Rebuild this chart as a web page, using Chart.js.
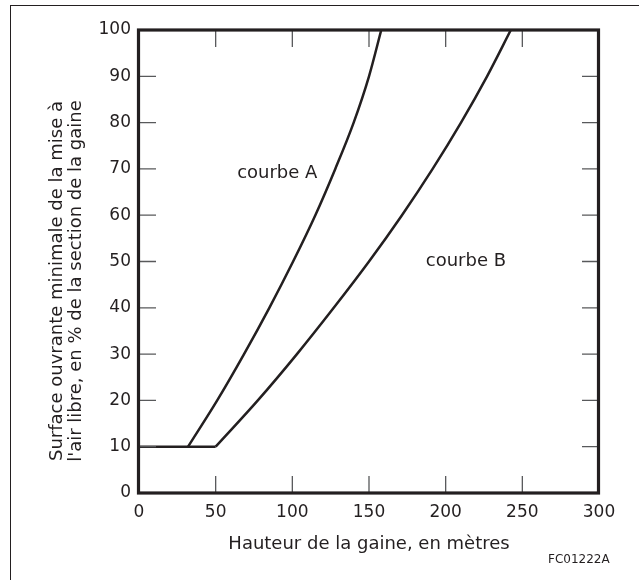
<!DOCTYPE html>
<html>
<head>
<meta charset="utf-8">
<script src="https://cdn.jsdelivr.net/npm/chart.js@4.4.0/dist/chart.umd.min.js"></script>
<style>
  body { margin: 0; background: #fff; }
  #wrap { position: relative; width: 639px; height: 580px; }
  #frame { position: absolute; left: 10px; top: 5px; right: -2px; bottom: -2px;
           border-top: 1.5px solid #231f20; border-left: 1.5px solid #231f20; }
  canvas { position: absolute; left: 0; top: 0; }
</style>
</head>
<body>
<div id="wrap">
  <div id="frame"></div>
  <canvas id="myChart" width="639" height="580"></canvas>
</div>
<script>
// axis ticks
var xTicks = [0, 50, 100, 150, 200, 250, 300];
var yTicks = [0, 10, 20, 30, 40, 50, 60, 70, 80, 90, 100];

// common flat part at 10 %
var baseX = [0, 50];
var baseY = [10, 10];

// courbe A
var curveAX = [32, 51, 68.5, 85, 100.5, 115, 128, 140, 150, 158];
var curveAY = [10, 20, 30, 40, 50, 60, 70, 80, 90, 100];

// courbe B
var curveBX = [50, 77.5, 103, 127, 150, 171.5, 191.5, 210, 227, 242.5];
var curveBY = [10, 20, 30, 40, 50, 60, 70, 80, 90, 100];

// curve labels (data units)
var labelText = ["courbe A", "courbe B"];
var labelX = [64, 187];
var labelY = [68, 49];

var yTitle = ["Surface ouvrante minimale de la mise à", "l'air libre, en % de la section de la gaine"];
var xTitle = "Hauteur de la gaine, en mètres";
var figCode = "FC01222A";

function toPoints(xs, ys) {
  var pts = [];
  for (var i in xs) {
    pts.push({x: xs[i], y: ys[i]});
  }
  return pts;
}

var ink = '#231f20';
Chart.defaults.font.family = "'DejaVu Sans'";
Chart.defaults.color = ink;

// frame, inside tick marks and the free texts
var decor = {
  id: 'decor',
  afterDatasetsDraw: function(chart) {
    var ctx = chart.ctx;
    var a = chart.chartArea;
    var xs = chart.scales.x, ys = chart.scales.y;
    var len = 17;
    ctx.save();
    ctx.strokeStyle = '#58595b';
    ctx.lineWidth = 1.3;
    ctx.beginPath();
    for (var i in xTicks) {
      var px = xs.getPixelForValue(xTicks[i]);
      ctx.moveTo(px, a.bottom); ctx.lineTo(px, a.bottom - len);
      ctx.moveTo(px, a.top); ctx.lineTo(px, a.top + len);
    }
    for (var j in yTicks) {
      var py = ys.getPixelForValue(yTicks[j]);
      ctx.moveTo(a.left, py); ctx.lineTo(a.left + len, py);
      ctx.moveTo(a.right, py); ctx.lineTo(a.right - len, py);
    }
    ctx.stroke();

    ctx.strokeStyle = ink;
    ctx.lineWidth = 3.2;
    ctx.strokeRect(a.left - 0.5, a.top, a.right - a.left, a.bottom - a.top);

    ctx.fillStyle = ink;
    ctx.font = "18px 'DejaVu Sans'";
    ctx.textAlign = 'left';
    ctx.textBaseline = 'alphabetic';
    for (var k in labelText) {
      ctx.fillText(labelText[k], xs.getPixelForValue(labelX[k]), ys.getPixelForValue(labelY[k]));
    }

    // y title, two lines
    ctx.save();
    ctx.translate(0, 281);
    ctx.rotate(-Math.PI / 2);
    ctx.textAlign = 'center';
    ctx.fillText(yTitle[0], 0, 62);
    ctx.fillText(yTitle[1], 0, 81);
    ctx.restore();

    ctx.font = "12px 'DejaVu Sans'";
    ctx.textAlign = 'left';
    ctx.fillText(figCode, 548, 563);
    ctx.restore();
  }
};

var ctx = document.getElementById('myChart').getContext('2d');
var chart = new Chart(ctx, {
  type: 'line',
  data: {
    datasets: [
      { data: toPoints(baseX, baseY), borderColor: ink, borderWidth: 2.5, pointRadius: 0, tension: 0 },
      { data: toPoints(curveAX, curveAY), borderColor: ink, borderWidth: 2.5, pointRadius: 0, cubicInterpolationMode: 'monotone' },
      { data: toPoints(curveBX, curveBY), borderColor: ink, borderWidth: 2.5, pointRadius: 0, cubicInterpolationMode: 'monotone' }
    ]
  },
  options: {
    responsive: false,
    animation: false,
    layout: { padding: { left: 0, top: 30, right: 40, bottom: 0 } },
    plugins: { legend: { display: false }, tooltip: { enabled: false } },
    scales: {
      x: {
        type: 'linear', min: 0, max: 300,
        grid: { display: false, drawTicks: false },
        border: { display: false },
        ticks: { stepSize: 50, padding: 9, font: { size: 17 }, color: ink },
        title: { display: true, text: xTitle, font: { size: 18 }, color: ink, padding: { top: 0, bottom: 25 } },
        afterFit: function(scale) { scale.height = 87; }
      },
      y: {
        type: 'linear', min: 0, max: 100,
        grid: { display: false, drawTicks: false },
        border: { display: false },
        ticks: { stepSize: 10, padding: 8, font: { size: 17 }, color: ink },
        afterFit: function(scale) { scale.width = 139; }
      }
    }
  },
  plugins: [decor]
});
</script>
</body>
</html>
